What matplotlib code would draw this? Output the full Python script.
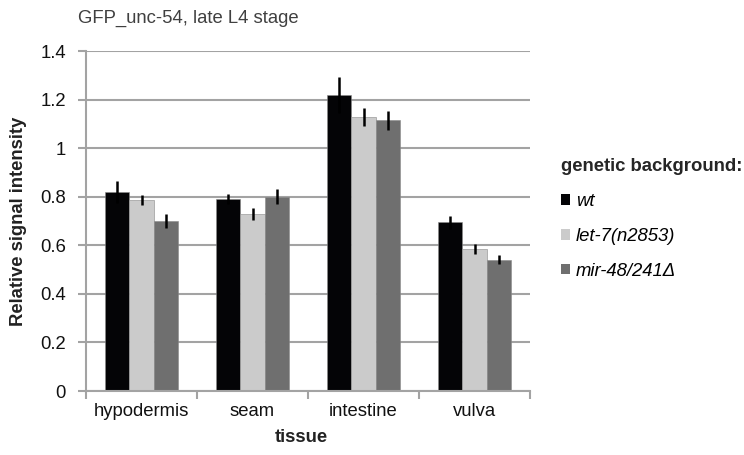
import numpy as np
import matplotlib
matplotlib.use('Agg')
from matplotlib import pyplot as plt
from matplotlib.patches import Patch

plt.rcParams['font.family'] = ['Liberation Sans', 'DejaVu Sans']

tissues  = ['hypodermis', 'seam', 'intestine', 'vulva']
genotype = ['wt', 'let-7(n2853)', 'mir-48/241\u0394']
colors   = ['#040406', '#cbcbcb', '#6f6f6f']

# mean relative signal intensity and error for each background
wt       = [0.82, 0.79, 1.22, 0.695]
wt_err   = [0.045, 0.022, 0.075, 0.027]
let7     = [0.785, 0.73, 1.13, 0.585]
let7_err = [0.021, 0.024, 0.037, 0.020]
mir      = [0.70, 0.80, 1.115, 0.54]
mir_err  = [0.029, 0.030, 0.040, 0.018]

vals = [wt, let7, mir]
errs = [wt_err, let7_err, mir_err]

fs  = 13.3
fig = plt.figure(figsize=(7.44, 4.55), dpi=100)
ax  = fig.add_axes([86/744, 1-391/455, (530-86)/744, 340/455])

x  = np.arange(len(tissues))
bw = 0.22
for ii in range(3):
	xx = x + (ii-1)*bw
	ax.bar(xx, vals[ii], width=bw, color=colors[ii], edgecolor='#8a8a8a', linewidth=0.4, zorder=2)
	ax.errorbar(xx, vals[ii], yerr=errs[ii], fmt='none', ecolor='black', elinewidth=1.8, capsize=0, zorder=3)

ax.set_xlim(-0.5, len(tissues)-0.5)
ax.set_ylim(0, 1.4)
ax.set_yticks(np.arange(0, 1.41, 0.2))
ax.set_yticklabels(['0', '0.2', '0.4', '0.6', '0.8', '1', '1.2', '1.4'])
ax.yaxis.grid(True, color='#a3a3a3', linewidth=1.5, zorder=0)
ax.set_axisbelow(True)

ax.set_xticks(x)
ax.set_xticklabels(tissues)
ax.set_xticks(np.arange(-0.5, len(tissues)), minor=True)
ax.tick_params(axis='x', which='major', length=0, pad=8.5, labelsize=fs, labelcolor='#111111')
ax.tick_params(axis='x', which='minor', length=6, color='#a3a3a3', width=1.5)
ax.tick_params(axis='y', length=6, color='#a3a3a3', width=1.5, labelsize=fs, pad=8.5, labelcolor='#111111')

for s in ['top', 'right']:
	ax.spines[s].set_visible(False)
for s in ['left', 'bottom']:
	ax.spines[s].set_color('#a3a3a3')
	ax.spines[s].set_linewidth(1.5)

ax.set_xlabel('tissue', fontsize=fs, fontweight='bold', color='#222222')
ax.set_ylabel('Relative signal intensity', fontsize=fs, fontweight='bold', color='#222222')
ax.xaxis.set_label_coords((301-86)/444, -(438-391)/340)
ax.xaxis.label.set_va('center')
ax.yaxis.set_label_coords((19-86)/444, 0.5)
ax.yaxis.label.set_va('center')
fig.text(78/744, 1-18/455, 'GFP_unc-54, late L4 stage', fontsize=fs, color='#404040', va='center', ha='left')

handles = [Patch(facecolor=c, edgecolor='none') for c in colors]
leg = fig.legend(handles, genotype, loc='upper left', bbox_to_anchor=(561/744, 1-158/455),
	frameon=False, title='genetic background:', handlelength=0.5, handleheight=0.5,
	handletextpad=0.3, labelspacing=0.97, borderaxespad=0, borderpad=0,
	prop={'style': 'italic', 'size': fs}, alignment='left')
leg.get_title().set_fontweight('bold')
leg.get_title().set_fontsize(fs)
leg.get_title().set_color('#262626')

fig.savefig('out.png', dpi=100)
